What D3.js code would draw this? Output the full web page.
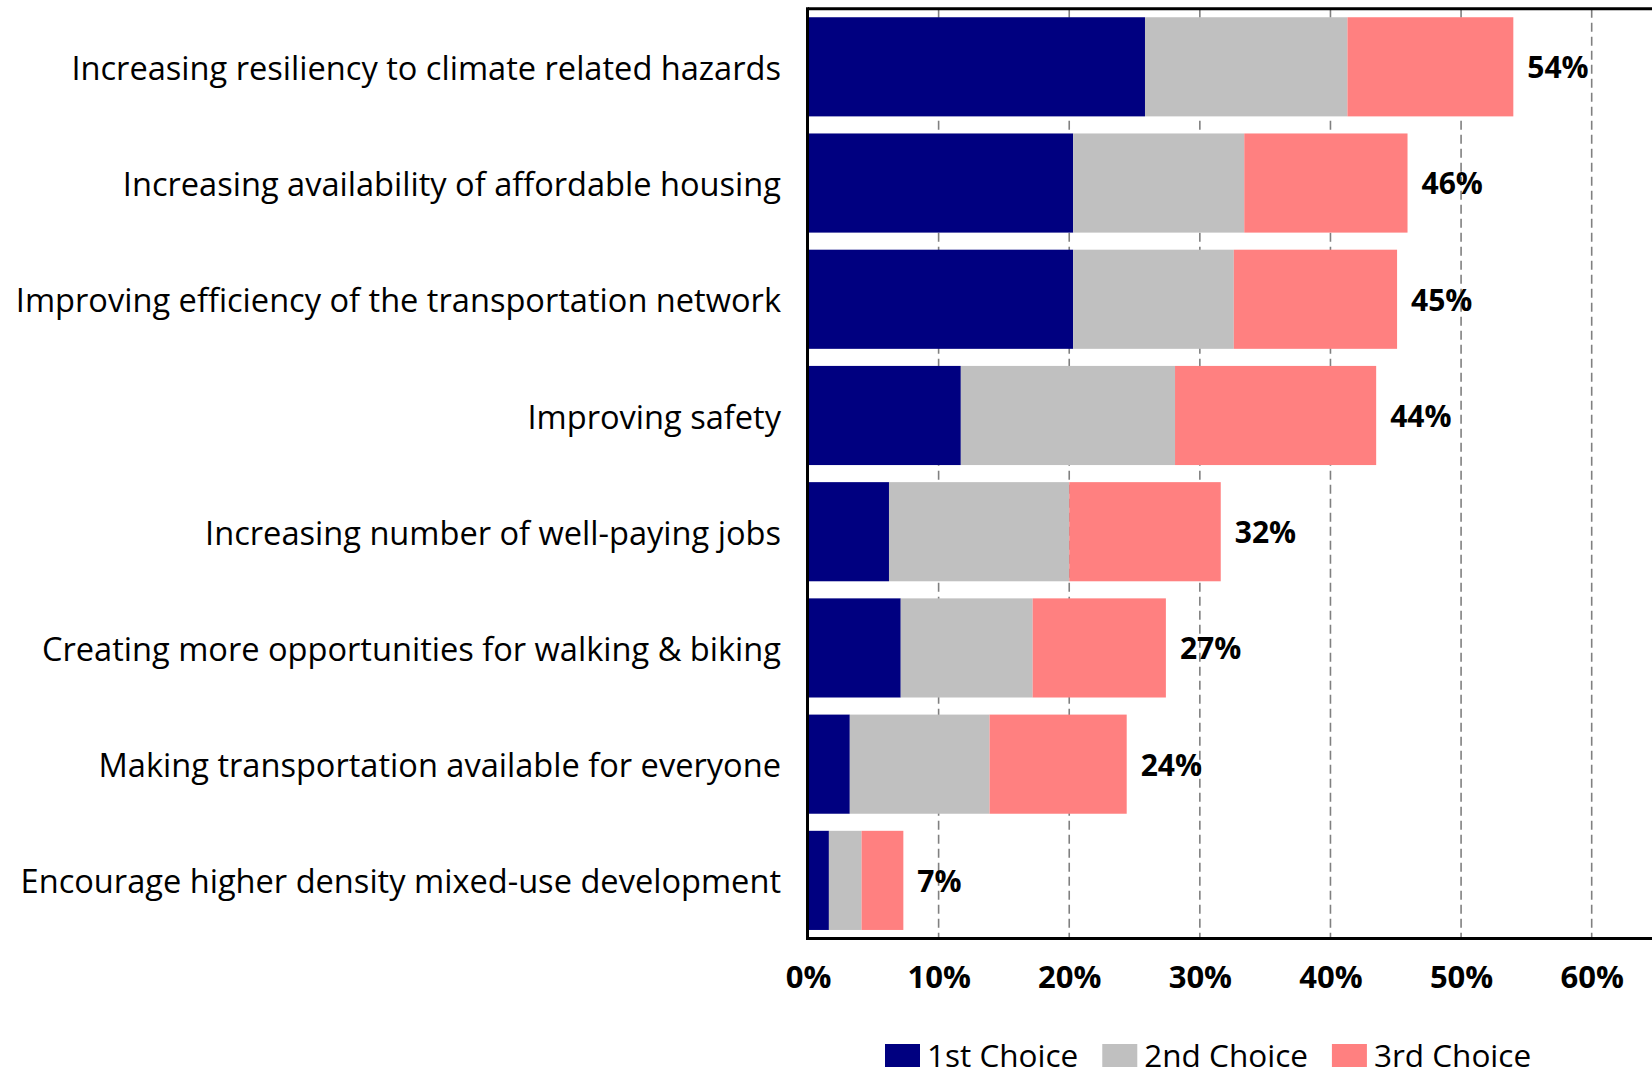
<!DOCTYPE html>
<html>
<head>
<meta charset="utf-8">
<script src="https://cdn.jsdelivr.net/npm/d3@7"></script>
<style>
  body { margin: 0; background: #fff; }
  svg { display: block; font-family: "Open Sans", sans-serif; }
</style>
</head>
<body>
<svg id="chart"></svg>
<script>
// data (percent)
var categories = [
    "Increasing resiliency to climate related hazards",
    "Increasing availability of affordable housing",
    "Improving efficiency of the transportation network",
    "Improving safety",
    "Increasing number of well-paying jobs",
    "Creating more opportunities for walking & biking",
    "Making transportation available for everyone",
    "Encourage higher density mixed-use development"
];
var firstChoice = [25.8, 20.3, 20.3, 11.7, 6.2, 7.1, 3.2, 1.6];
var secondChoice = [15.5, 13.1, 12.3, 16.4, 13.8, 10.1, 10.7, 2.5];
var thirdChoice = [12.7, 12.5, 12.5, 15.4, 11.6, 10.2, 10.5, 3.2];
var totals = ["54%", "46%", "45%", "44%", "32%", "27%", "24%", "7%"];
var tickValues = [0, 10, 20, 30, 40, 50, 60];
var seriesNames = ["1st Choice", "2nd Choice", "3rd Choice"];
var seriesColors = ["#000080", "#c0c0c0", "#ff8080"];

const width = 1652;
const height = 1075;
const plotTop = 8.7, plotBottom = 938.5;

const svg = d3.select("#chart")
    .attr("width", width)
    .attr("height", height);

const x = d3.scaleLinear().domain([0, 65]).range([808, 1657]);
const y = d3.scaleBand()
    .domain(categories)
    .range([plotTop, plotBottom])
    .paddingInner(0.147)
    .paddingOuter(0.0735);

// table for the stack
let rows = categories.map((c, i) => ({
    cat: c,
    s0: firstChoice[i],
    s1: secondChoice[i],
    s2: thirdChoice[i]
}));
const stack = d3.stack().keys(["s0", "s1", "s2"])(rows);

// dashed grid lines
svg.append("g")
    .selectAll("line")
    .data(tickValues.filter(t => t > 0))
    .join("line")
    .attr("x1", d => x(d))
    .attr("x2", d => x(d))
    .attr("y1", plotTop)
    .attr("y2", plotBottom)
    .attr("stroke", "#808080")
    .attr("stroke-width", 1.6)
    .attr("stroke-dasharray", "9,5");

// bars
svg.append("g")
    .selectAll("g")
    .data(stack)
    .join("g")
    .attr("fill", (d, i) => seriesColors[i])
    .selectAll("rect")
    .data(d => d)
    .join("rect")
    .attr("x", d => x(d[0]))
    .attr("width", d => x(d[1]) - x(d[0]))
    .attr("y", d => y(d.data.cat))
    .attr("height", y.bandwidth());

// total labels
svg.append("g")
    .selectAll("text")
    .data(rows)
    .join("text")
    .attr("x", d => x(d.s0 + d.s1 + d.s2) + 14)
    .attr("y", d => y(d.cat) + y.bandwidth() / 2)
    .attr("dy", "0.38em")
    .attr("font-size", 30)
    .attr("font-weight", "bold")
    .text((d, i) => totals[i]);

// category labels
svg.append("g")
    .selectAll("text")
    .data(categories)
    .join("text")
    .attr("x", 781)
    .attr("y", d => y(d) + y.bandwidth() / 2)
    .attr("dy", "0.4em")
    .attr("text-anchor", "end")
    .attr("font-size", 32.6)
    .text(d => d);

// frame: left axis, top and bottom lines
svg.append("line")
    .attr("x1", x(0)).attr("x2", width)
    .attr("y1", plotTop).attr("y2", plotTop)
    .attr("stroke", "black").attr("stroke-width", 3);
svg.append("line")
    .attr("x1", x(0)).attr("x2", width)
    .attr("y1", plotBottom).attr("y2", plotBottom)
    .attr("stroke", "black").attr("stroke-width", 3);
svg.append("line")
    .attr("x1", x(0) - 0.5).attr("x2", x(0) - 0.5)
    .attr("y1", plotTop - 1.5).attr("y2", plotBottom + 1.5)
    .attr("stroke", "black").attr("stroke-width", 3);

// x axis tick labels
const xAxis = d3.axisBottom(x)
    .tickValues(tickValues)
    .tickSize(0)
    .tickPadding(0)
    .tickFormat(d => d + "%");

svg.append("g")
    .attr("transform", `translate(0,${plotBottom})`)
    .call(xAxis)
    .call(g => g.select(".domain").remove())
    .call(g => g.selectAll("text")
        .attr("y", 49)
        .attr("dy", 0)
        .attr("fill", "black")
        .attr("font-size", 31)
        .attr("font-weight", "bold")
        .attr("font-family", "Open Sans, sans-serif"));

// legend
const legend = svg.append("g").attr("transform", "translate(885,1044)");
let lx = 0;
seriesNames.forEach((name, i) => {
    let item = legend.append("g").attr("transform", `translate(${lx},0)`);
    item.append("rect")
        .attr("width", 35)
        .attr("height", 23)
        .attr("fill", seriesColors[i]);
    let t = item.append("text")
        .attr("x", 42)
        .attr("y", 23)
        .attr("font-size", 31.5)
        .text(name);
    lx += 42 + t.node().getComputedTextLength() + 24;
});
</script>
</body>
</html>
